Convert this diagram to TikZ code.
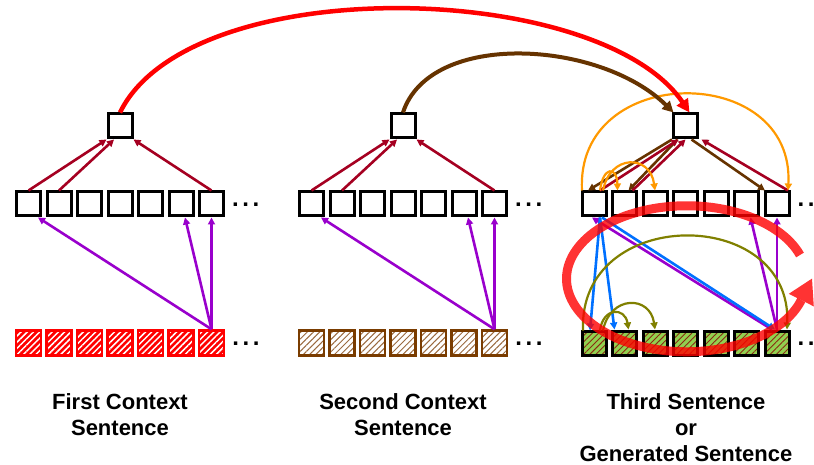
\documentclass[tikz,border=0pt]{standalone}
\usepackage{fontspec}
\setmainfont{Liberation Sans}
\usetikzlibrary{arrows.meta,patterns.meta}

\definecolor{upred}{HTML}{A50021}
\definecolor{attnpurple}{HTML}{9900CC}
\definecolor{ctxbrown}{HTML}{663300}
\definecolor{cellbrown}{HTML}{7A3C00}
\definecolor{stripebrown}{HTML}{9A6A40}
\definecolor{selforange}{HTML}{FF9900}
\definecolor{crossblue}{HTML}{0070FF}
\definecolor{genolive}{HTML}{808000}
\definecolor{gengreen}{HTML}{92D050}
\definecolor{genstripe}{HTML}{8A2A12}

\tikzset{
  cell/.style={draw=black, line width=3pt, minimum size=24pt, inner sep=0pt, fill=white},
  redcell/.style={draw=red, line width=2.5pt, minimum size=25pt, inner sep=0pt,
    preaction={fill=red}, pattern={Lines[angle=45,distance=4.4pt,line width=1.5pt]}, pattern color=white},
  browncell/.style={draw=cellbrown, line width=2.5pt, minimum size=25pt, inner sep=0pt,
    preaction={fill=white}, pattern={Lines[angle=45,distance=4.4pt,line width=1pt]}, pattern color=stripebrown},
  greencell/.style={draw=black, line width=3pt, minimum size=24pt, inner sep=0pt,
    preaction={fill=gengreen}, pattern={Lines[angle=45,distance=4.4pt,line width=0.9pt]}, pattern color=genstripe},
  tip/.style={-{Triangle[length=7pt,width=7pt]}},
  uparr/.style={tip, draw=upred, line width=2.6pt},
  purparr/.style={tip, draw=attnpurple, line width=2.6pt},
  brownarr/.style={tip, draw=ctxbrown, line width=2.6pt},
  orarr/.style={tip, draw=selforange, line width=2.2pt},
  bluearr/.style={tip, draw=crossblue, line width=2.6pt},
  olarr/.style={tip, draw=genolive, line width=2.2pt},
  loop/.style={red, opacity=0.8},
  more/.style={anchor=base west, inner sep=0pt, font=\bfseries\fontsize{24}{26}\selectfont},
  lab/.style={align=center, font=\bfseries\fontsize{22}{26}\selectfont, inner sep=0pt}
}
\newcommand{\moredots}{.\kern3.5pt.\kern3.5pt.}

\begin{document}
\begin{tikzpicture}[x=1pt,y=-1pt]
\useasboundingbox (0,0) rectangle (814,465);

% ---- three columns of cells ----
\foreach \g/\gx in {a/28.5,b/311.5,c/594}{
  \foreach \i in {1,...,7}{
    \ifx\g c
      \node[greencell] (\g m\i) at ({\gx+(\i-1)*30.5},204) {};
    \else
      \node[cell] (\g m\i) at ({\gx+(\i-1)*30.5},204) {};
    \fi
  }
  \node[cell] (\g top) at ({\gx+3*30.5},126) {};
  \node[more] (\g dm) at ([xshift=7pt,yshift=-2.7pt]\g m7.east) {\moredots};
}
\foreach \i in {1,...,7}{
  \node[redcell]   (ab\i) at ({28.5+(\i-1)*30.5},343) {};
  \node[browncell] (bb\i) at ({311.5+(\i-1)*30.5},343) {};
  \node[greencell] (cb\i) at ({594+(\i-1)*30.5},343) {};
}
\foreach \g in {a,b,c}{
  \node[more] (\g db) at ([xshift=7pt,yshift=-2.7pt]\g b7.east) {\moredots};
}

% ---- context columns: pooling and cross links ----
\foreach \g in {a,b}{
  \draw[uparr] (\g m1.north) -- (\g top.south west);
  \draw[uparr] (\g m2.north) -- ([xshift=-6pt]\g top.south);
  \draw[uparr] (\g m7.north) -- (\g top.south east);
  \draw[purparr] (\g b7.north) -- ([xshift=-4pt]\g m1.south east);
  \draw[purparr] (\g b7.north) -- ([xshift=4pt]\g m6.south);
  \draw[purparr] (\g b7.north) -- (\g m7.south);
}

% ---- third column ----
\draw[brownarr] (ctop.south west) -- ([xshift=-6pt]cm1.north);
\draw[brownarr] ([xshift=-8pt]ctop.south) -- ([xshift=4pt]cm2.north);
\draw[brownarr] ([xshift=6pt]ctop.south) -- ([xshift=-12pt]cm7.north);
\draw[uparr] ([xshift=6pt]cm1.north) -- ([xshift=-7pt]ctop.south);
\draw[uparr] ([xshift=8pt]cm2.north) -- (ctop.south);
\draw[uparr] ([xshift=11pt]cm7.north) -- ([xshift=16pt]ctop.south);

\draw[orarr] ([xshift=-12pt]cm1.north) .. controls (575,62) and (795,62) .. ([xshift=11pt]cm7.north);
\draw[orarr] ([xshift=6pt]cm1.north) .. controls (603,166) and (617,166) .. ([xshift=-7pt]cm2.north);
\draw[orarr] ([xshift=9pt]cm1.north) .. controls (610,154) and (650,154) .. (cm3.north);

\draw[purparr] ([xshift=-5pt]cb7.north) -- ([xshift=-2pt]cm1.south);
\draw[purparr] (cb7.north) -- ([xshift=4pt]cm6.south);
\draw[purparr] (cb7.north) -- (cm7.south);
\draw[bluearr] ([xshift=6pt]cm1.south) -- ([xshift=-4pt]cb1.north);
\draw[bluearr] ([xshift=6pt]cm1.south) -- ([xshift=-10pt]cb2.north);
\draw[bluearr] ([xshift=8pt]cm1.south) -- ([xshift=-2pt]cb7.north);

\draw[olarr] ([xshift=-11pt]cb1.north) .. controls (578,205) and (792,205) .. ([xshift=10pt]cb7.north);
\draw[olarr] ([xshift=6pt]cb1.north) .. controls (603,307) and (625,307) .. ([xshift=4pt]cb2.north);
\draw[olarr] ([xshift=9pt]cb1.north) .. controls (610,295) and (650,295) .. (cb3.north);

% ---- links between sentence summaries ----
\draw[-{Triangle[length=13pt,width=13pt]}, red, line width=4.5pt]
  (atop.north) .. controls (190,-30) and (600,-20) .. ([xshift=4pt]ctop.north);
\draw[-{Triangle[length=11pt,width=11pt]}, ctxbrown, line width=4pt]
  (btop.north) .. controls (430,30) and (600,40) .. ([xshift=-12pt]ctop.north);

% ---- generation loop: translucent band and its head ----
\draw[loop, line width=9pt]
  (800,255) arc[start angle=-19, end angle=-343, x radius=120, y radius=73] coordinate (loopend);
\fill[loop] (loopend) ++(12.5,6.3) -- ++(-25,-12.6) -- ++(23.2,-15.2) -- cycle;

% ---- captions ----
\node[lab] (cap1) at (120,415) {First Context\\Sentence};
\node[lab] (cap2) at (403,415) {Second Context\\Sentence};
\node[lab] (cap3) at (686,428) {Third Sentence\\or\\Generated Sentence};
\end{tikzpicture}
\end{document}
